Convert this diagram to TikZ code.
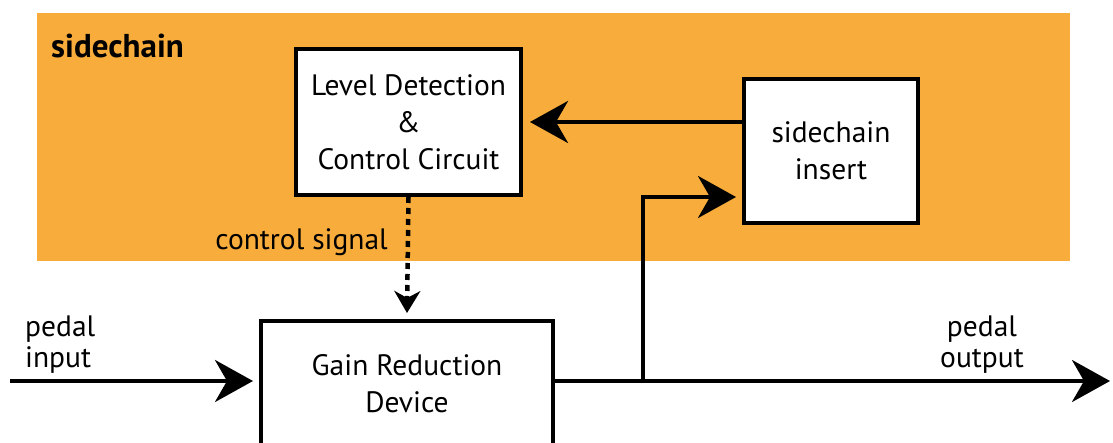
\documentclass[tikz,border=0pt]{standalone}
\usepackage{fontspec}
\setmainfont{PT Sans}
\usetikzlibrary{arrows.meta,calc}
\definecolor{scorange}{RGB}{248,172,59}
\begin{document}
\begin{tikzpicture}[x=1pt,y=-1pt,
  box/.style={draw=black, line width=4pt, fill=white, align=center, inner sep=0pt, font=\fontsize{29.5}{37}\selectfont},
  lbl/.style={inner sep=0pt, font=\fontsize{29.5}{31}\selectfont},
  arr/.style={line width=4pt, -{Stealth[length=38pt,width=42pt,inset=12pt]}},
  ctl/.style={line width=4.5pt, dash pattern=on 6pt off 5pt, -{Stealth[length=22pt,width=26pt,inset=7pt]}}]
\useasboundingbox (0,0) rectangle (1113,443);
\fill[scorange] (37,13) rectangle (1070,261);
\node[lbl, anchor=base west, font=\fontsize{33}{33}\selectfont\bfseries] (sc) at (51,58) {sidechain};
\node[box, minimum width=225pt, minimum height=146pt] (level) at (408.5,122) {Level Detection\\\&\\Control Circuit};
\node[box, minimum width=174pt, minimum height=144pt] (insert) at (831,151) {sidechain\\insert};
\node[box, minimum width=292pt, minimum height=126pt] (gain) at (407,384) {Gain Reduction\\Device};
\node[lbl, anchor=base east] (cs) at (388,250) {control signal};
\node[lbl, anchor=west, align=left] (pin) at (25,345) {pedal\\input};
\node[lbl, anchor=center, align=center] (pout) at (982,345) {pedal\\output};
\coordinate (in) at (10,381);
\coordinate (out) at (1110,381);
\coordinate (bp) at (643,381);
\coordinate (bend) at (643,197);
\draw[arr] (in) -- ([xshift=-6pt]gain.west |- in);
\draw[arr] (gain.east |- out) -- (out);
\draw[arr] (bp) |- ([xshift=-6pt]insert.west |- bend);
\draw[arr] (insert.west |- level.east) -- ([xshift=7pt]level.east);
\draw[ctl] (level.south) -- ([yshift=6pt]gain.north);
\end{tikzpicture}
\end{document}
